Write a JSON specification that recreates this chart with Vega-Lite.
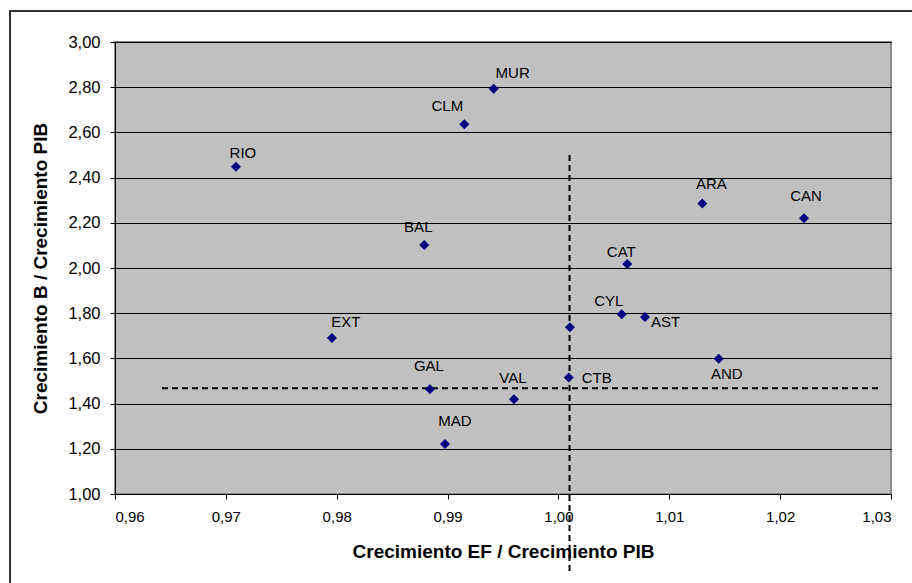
{
  "$schema": "https://vega.github.io/schema/vega-lite/v6.json",
  "autosize": "none",
  "width": 776,
  "height": 452,
  "padding": {"left": 115, "top": 42, "right": 21, "bottom": 89},
  "background": "white",
  "config": {
    "locale": {"number": {"decimal": ",", "thousands": ".", "grouping": [3], "currency": ["", " €"]}},
    "view": {"fill": "#C0C0C0", "stroke": "#8C8C8C", "strokeWidth": 2},
    "text": {"font": "Liberation Sans", "fontSize": 15, "color": "black"},
    "axis": {
      "labelFont": "Liberation Sans", "labelFontSize": 15, "labelColor": "black",
      "titleFont": "Liberation Sans", "titleFontSize": 19, "titleFontWeight": "bold", "titleColor": "black",
      "domainColor": "black", "domainWidth": 1, "tickColor": "black", "tickSize": 5, "tickWidth": 1
    }
  },
  "datasets": {
    "pts": [
      {"name": "RIO", "ef": 0.97091, "b": 2.448},
      {"name": "MUR", "ef": 0.99416, "b": 2.793},
      {"name": "CLM", "ef": 0.99151, "b": 2.636},
      {"name": "BAL", "ef": 0.9879, "b": 2.102},
      {"name": "EXT", "ef": 0.97957, "b": 1.690},
      {"name": "GAL", "ef": 0.98841, "b": 1.463},
      {"name": "MAD", "ef": 0.98977, "b": 1.221},
      {"name": "VAL", "ef": 0.99599, "b": 1.419},
      {"name": "CTB", "ef": 1.00093, "b": 1.516},
      {"name": "", "ef": 1.00104, "b": 1.738},
      {"name": "CYL", "ef": 1.00571, "b": 1.795},
      {"name": "AST", "ef": 1.00781, "b": 1.783},
      {"name": "CAT", "ef": 1.00621, "b": 2.018},
      {"name": "ARA", "ef": 1.01298, "b": 2.285},
      {"name": "CAN", "ef": 1.02215, "b": 2.220},
      {"name": "AND", "ef": 1.01446, "b": 1.599}
    ],
    "one": [{"k": 1}]
  },
  "layer": [
    {
      "data": {"name": "one"},
      "mark": {"type": "rect", "fill": null, "filled": false, "stroke": "#333333", "strokeWidth": 2, "clip": false},
      "encoding": {
        "x": {"datum": 0.95053, "type": "quantitative", "scale": {"domain": [0.96, 1.03], "nice": false, "zero": false}},
        "x2": {"datum": 1.06},
        "y": {"datum": 3.1372, "type": "quantitative", "scale": {"domain": [1, 3], "nice": false, "zero": false}},
        "y2": {"datum": 0.3}
      }
    },
    {
      "data": {"name": "one"},
      "mark": {"type": "rule", "color": "black", "strokeWidth": 2, "strokeDash": [6, 4], "clip": false},
      "encoding": {
        "x": {"datum": 1.001, "type": "quantitative", "scale": {"domain": [0.96, 1.03], "nice": false, "zero": false}},
        "y": {"datum": 2.5, "type": "quantitative", "scale": {"domain": [1, 3], "nice": false, "zero": false}},
        "y2": {"datum": 0.65}
      }
    },
    {
      "data": {"name": "one"},
      "mark": {"type": "rule", "color": "black", "strokeWidth": 2, "strokeDash": [6, 4], "clip": false},
      "encoding": {
        "y": {"datum": 1.4677, "type": "quantitative", "scale": {"domain": [1, 3], "nice": false, "zero": false}},
        "x": {"datum": 0.96424, "type": "quantitative", "scale": {"domain": [0.96, 1.03], "nice": false, "zero": false}},
        "x2": {"datum": 1.02915}
      }
    },
    {
      "data": {"name": "pts"},
      "encoding": {
        "x": {"field": "ef", "type": "quantitative",
          "scale": {"domain": [0.96, 1.03], "nice": false, "zero": false},
          "axis": {"title": "Crecimiento EF / Crecimiento PIB", "values": [0.96, 0.97, 0.98, 0.99, 1.0, 1.01, 1.02, 1.03], "format": ".2f", "grid": false, "labelPadding": 10, "titleY": 57, "titleBaseline": "middle"}},
        "y": {"field": "b", "type": "quantitative",
          "scale": {"domain": [1, 3], "nice": false, "zero": false},
          "axis": {"title": "Crecimiento B / Crecimiento PIB", "values": [1.0, 1.2, 1.4, 1.6, 1.8, 2.0, 2.2, 2.4, 2.6, 2.8, 3.0], "format": ".2f", "grid": true, "gridColor": "black", "gridWidth": 1, "gridOpacity": 1, "labelPadding": 10, "labelFontSize": 16.5, "titleX": -75, "titleY": 226, "titleBaseline": "middle"}},
        "text": {"field": "name"}
      },
      "layer": [
        {"mark": {"type": "point", "shape": "diamond", "filled": true, "color": "#000080", "size": 100, "opacity": 1}},
        {"transform": [{"filter": "datum.name === 'RIO'"}], "mark": {"type": "text", "align": "center", "baseline": "middle", "dx": 7, "dy": -14}},
        {"transform": [{"filter": "datum.name === 'MUR'"}], "mark": {"type": "text", "align": "center", "baseline": "middle", "dx": 19, "dy": -16}},
        {"transform": [{"filter": "datum.name === 'CLM'"}], "mark": {"type": "text", "align": "center", "baseline": "middle", "dx": -17, "dy": -18}},
        {"transform": [{"filter": "datum.name === 'BAL'"}], "mark": {"type": "text", "align": "center", "baseline": "middle", "dx": -6, "dy": -18}},
        {"transform": [{"filter": "datum.name === 'EXT'"}], "mark": {"type": "text", "align": "center", "baseline": "middle", "dx": 14, "dy": -16}},
        {"transform": [{"filter": "datum.name === 'GAL'"}], "mark": {"type": "text", "align": "center", "baseline": "middle", "dx": -1, "dy": -23}},
        {"transform": [{"filter": "datum.name === 'MAD'"}], "mark": {"type": "text", "align": "center", "baseline": "middle", "dx": 10, "dy": -23}},
        {"transform": [{"filter": "datum.name === 'VAL'"}], "mark": {"type": "text", "align": "center", "baseline": "middle", "dx": -1, "dy": -21}},
        {"transform": [{"filter": "datum.name === 'CYL'"}], "mark": {"type": "text", "align": "center", "baseline": "middle", "dx": -13, "dy": -13}},
        {"transform": [{"filter": "datum.name === 'CAT'"}], "mark": {"type": "text", "align": "center", "baseline": "middle", "dx": -6, "dy": -12}},
        {"transform": [{"filter": "datum.name === 'ARA'"}], "mark": {"type": "text", "align": "center", "baseline": "middle", "dx": 9, "dy": -20}},
        {"transform": [{"filter": "datum.name === 'CAN'"}], "mark": {"type": "text", "align": "center", "baseline": "middle", "dx": 2, "dy": -22}},
        {"transform": [{"filter": "datum.name === 'AND'"}], "mark": {"type": "text", "align": "center", "baseline": "middle", "dx": 8, "dy": 15}},
        {"transform": [{"filter": "datum.name === 'CTB'"}], "mark": {"type": "text", "align": "left", "baseline": "middle", "dx": 13, "dy": 1}},
        {"transform": [{"filter": "datum.name === 'AST'"}], "mark": {"type": "text", "align": "left", "baseline": "middle", "dx": 6, "dy": 5}}
      ]
    }
  ]
}
